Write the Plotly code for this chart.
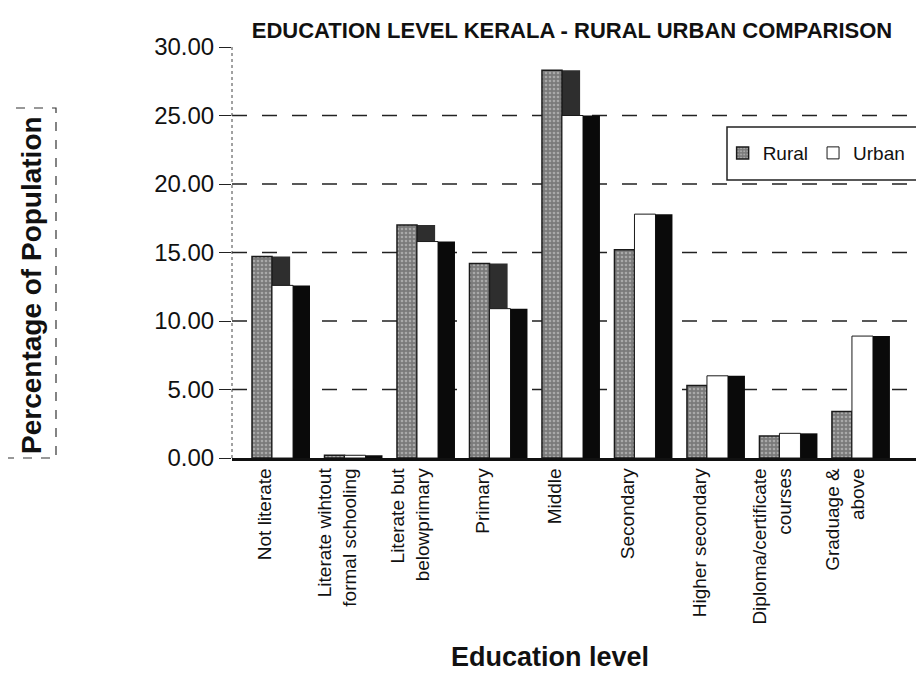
import plotly.graph_objects as go

categories = ["Not literate", "Literate wihtout<br>formal schooling", "Literate but<br>belowprimary",
              "Primary", "Middle", "Secondary", "Higher secondary",
              "Diploma/certificate<br>courses", "Graduage &<br>above"]
rural = [14.7, 0.2, 17.0, 14.2, 28.3, 15.2, 5.3, 1.6, 3.4]
urban = [12.6, 0.2, 15.8, 10.9, 25.0, 17.8, 6.0, 1.8, 8.9]
y_ticks = [0, 5, 10, 15, 20, 25, 30]

idx = list(range(len(categories)))
FONT = "Liberation Sans, Arial, sans-serif"

fig = go.Figure()
# rural side (depth) face
fig.add_trace(go.Bar(x=idx, y=rural, offset=-0.124, width=0.25,
                     marker=dict(color="#2e2e2e", line=dict(width=0)),
                     showlegend=False, hoverinfo="skip"))
# rural front face
fig.add_trace(go.Bar(x=idx, y=rural, offset=-0.40, width=0.276, name="Rural",
                     marker=dict(color="#8c8c8c", line=dict(color="#1a1a1a", width=1.5),
                                 pattern=dict(shape=".", fgcolor="#d8d8d8", bgcolor="#7a7a7a",
                                              size=4, solidity=0.35))))
# urban front face
fig.add_trace(go.Bar(x=idx, y=urban, offset=-0.124, width=0.29, name="Urban",
                     marker=dict(color="white", line=dict(color="#1a1a1a", width=1))))
# urban side face
fig.add_trace(go.Bar(x=idx, y=urban, offset=0.166, width=0.234,
                     marker=dict(color="#0a0a0a", line=dict(width=0)),
                     showlegend=False, hoverinfo="skip"))

grid_shapes = [dict(type="line", xref="paper", yref="y", x0=0, x1=1, y0=v, y1=v,
                    layer="below", line=dict(color="#222", width=1.3, dash="longdash"))
               for v in y_ticks[1:-1]]

fig.update_layout(
    width=916, height=672,
    barmode="overlay",
    paper_bgcolor="white", plot_bgcolor="white",
    margin=dict(l=224, r=0, t=39, b=222),
    font=dict(family=FONT, color="#111"),
    title=dict(text="<b>EDUCATION LEVEL KERALA - RURAL URBAN COMPARISON</b>",
               x=(564 / 916), xanchor="center", y=1 - 22 / 672, yanchor="middle",
               font=dict(size=22, family=FONT)),
    showlegend=True,
    legend=dict(orientation="h", x=0.709, y=0.742, xanchor="left", yanchor="middle",
                borderwidth=0, bgcolor="rgba(0,0,0,0)",
                font=dict(size=19, family=FONT), itemwidth=30,
                traceorder="normal"),
    xaxis=dict(range=[-0.676, 8.87], tickmode="array",
               tickvals=[i - 0.22 for i in idx], ticktext=categories,
               tickangle=-90, tickfont=dict(size=19, family=FONT, color="#111"),
               showline=True, linecolor="#111", linewidth=2.5,
               showgrid=False, ticks="", zeroline=False),
    yaxis=dict(range=[0, 30], tickmode="array", tickvals=y_ticks,
               tickformat=".2f", tickfont=dict(size=24, family=FONT, color="#111"),
               showgrid=False, showline=False,
               ticks="outside", ticklen=12, tickcolor="#222", zeroline=False),
    annotations=[
        dict(text="<b>Percentage of Population</b>", xref="paper", yref="paper",
             x=(31 - 232) / 692, y=(458 - 285) / 411, textangle=-90,
             showarrow=False, font=dict(size=28, family=FONT, color="#111"),
             xanchor="center", yanchor="middle"),
        dict(text="<b>Education level</b>", xref="paper", yref="paper",
             x=(550 - 232) / 692, y=(458 - 657) / 411, showarrow=False,
             font=dict(size=27, family=FONT, color="#111"),
             xanchor="center", yanchor="middle"),
    ],
    shapes=grid_shapes + [
        dict(type="line", xref="paper", yref="paper", x0=0, x1=0, y0=0, y1=1,
             line=dict(color="#444", width=1, dash="dot")),
        dict(type="rect", xref="paper", yref="paper",
             x0=(5 - 232) / 692, x1=(56 - 232) / 692,
             y0=0.0, y1=(458 - 108) / 411,
             line=dict(color="#333", width=1.2, dash="dash")),
        dict(type="rect", xref="paper", yref="paper",
             x0=(727 - 232) / 692, x1=1.05,
             y0=(458 - 180) / 411, y1=(458 - 127) / 411,
             line=dict(color="#222", width=1.5)),
    ],
)

fig.write_html("out.html")
